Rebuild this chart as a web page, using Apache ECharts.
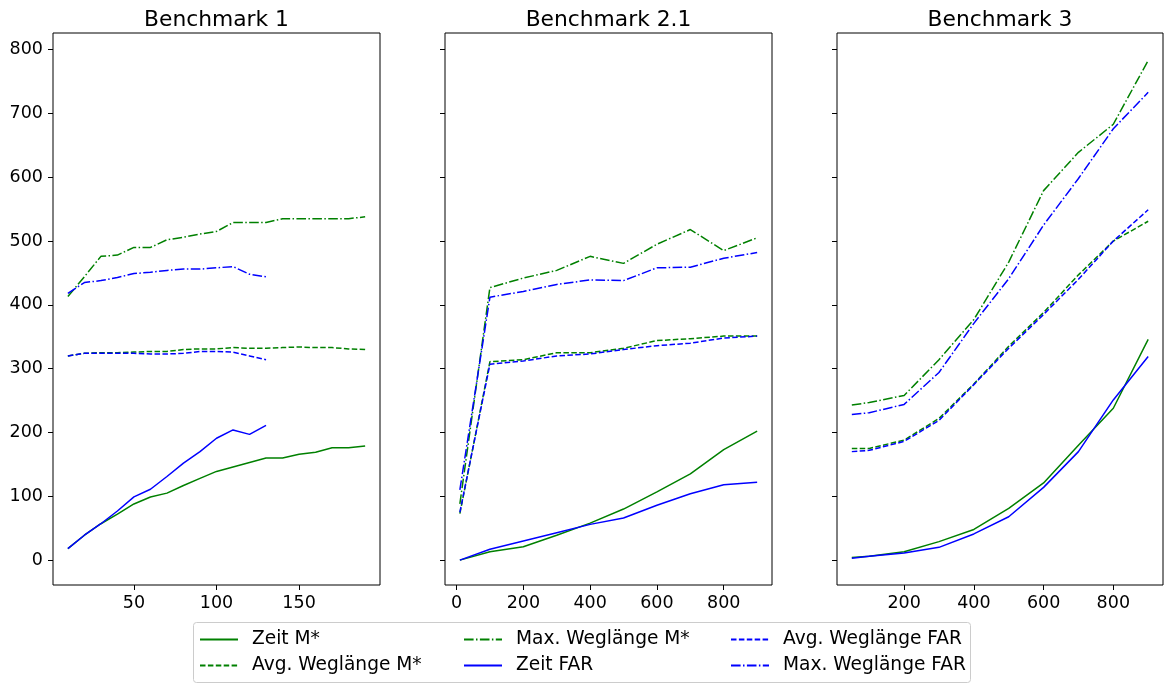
<!DOCTYPE html>
<html>
<head>
<meta charset="utf-8">
<title>Benchmark</title>
<script src="https://cdn.jsdelivr.net/npm/echarts@6/dist/echarts.min.js"></script>
<style>
	html, body { margin: 0; padding: 0; background: #fff; }
	#chart { width: 1167px; height: 684px; }
</style>
</head>
<body>
<div id="chart"></div>
<script>
	// Benchmark 1
	var b1XM = [10, 20, 30, 40, 50, 60, 70, 80, 90, 100, 110, 120, 130, 140, 150, 160, 170, 180, 190];
	var b1ZeitM = [18, 39, 57, 72, 88, 99, 105, 117, 128, 139, 146, 153, 160, 160, 166, 169, 176, 176, 179];
	var b1AvgM = [320, 324, 325, 325, 326, 327, 327, 330, 331, 331, 333, 332, 332, 333, 334, 333, 333, 331, 330];
	var b1MaxM = [413, 444, 476, 478, 490, 490, 502, 506, 511, 515, 529, 529, 529, 535, 535, 535, 535, 535, 538];
	var b1XF = [10, 20, 30, 40, 50, 60, 70, 80, 90, 100, 110, 120, 130];
	var b1ZeitF = [18, 39, 57, 77, 99, 111, 131, 152, 170, 191, 204, 197, 211];
	var b1AvgF = [320, 324, 324, 324, 324, 323, 323, 324, 327, 327, 326, 320, 314];
	var b1MaxF = [418, 435, 438, 443, 449, 451, 454, 456, 456, 458, 460, 448, 444];

	// Benchmark 2.1
	var b2X = [10, 100, 200, 300, 400, 500, 600, 700, 800, 900];
	var b2ZeitM = [0, 13, 21, 39, 58, 80, 107, 135, 173, 202];
	var b2AvgM = [73, 311, 314, 325, 325, 332, 344, 347, 351, 351];
	var b2MaxM = [88, 427, 442, 454, 476, 465, 495, 518, 485, 505];
	var b2ZeitF = [0, 17, 30, 43, 56, 66, 86, 104, 118, 122];
	var b2AvgF = [75, 307, 312, 320, 323, 330, 336, 340, 348, 351];
	var b2MaxF = [110, 412, 421, 432, 439, 438, 458, 459, 473, 482];

	// Benchmark 3
	var b3X = [50, 100, 200, 300, 400, 500, 600, 700, 800, 900];
	var b3ZeitM = [4, 6, 13, 29, 48, 81, 121, 180, 238, 346];
	var b3AvgM = [175, 175, 188, 222, 276, 335, 388, 447, 500, 531];
	var b3MaxM = [243, 247, 258, 314, 377, 467, 579, 639, 683, 783];
	var b3ZeitF = [3, 6, 11, 20, 41, 68, 114, 170, 251, 319];
	var b3AvgF = [170, 172, 186, 219, 275, 332, 385, 440, 500, 549];
	var b3MaxF = [228, 231, 244, 294, 371, 441, 525, 598, 676, 733];

	var titles = ['Benchmark 1', 'Benchmark 2.1', 'Benchmark 3'];
	var names = ['Zeit M*', 'Avg. Weglänge M*', 'Max. Weglänge M*', 'Zeit FAR', 'Avg. Weglänge FAR', 'Max. Weglänge FAR'];
	var yTicks = [0, 100, 200, 300, 400, 500, 600, 700, 800];
	var xTicks = [[50, 100, 150], [0, 200, 400, 600, 800], [200, 400, 600, 800]];

	var font = 'DejaVu Sans';
	var green = '#008000';
	var blue = '#0000ff';
	var dashed = [5.5, 2.4];
	var dashdot = [9.6, 2.4, 1.5, 2.4];

	// panel boxes (left, width) and x ranges like matplotlib margins
	var panels = [
		{ left: 53, width: 327, xmin: 1, xmax: 199 },
		{ left: 445, width: 327, xmin: -34.5, xmax: 944.5 },
		{ left: 837, width: 326, xmin: 7.5, xmax: 942.5 }
	];

	function pairs(xs, ys) {
		var out = [];
		for (var i = 0; i < xs.length; i++) {
			out.push([xs[i], ys[i]]);
		}
		return out;
	}

	var panelData = [
		[pairs(b1XM, b1ZeitM), pairs(b1XM, b1AvgM), pairs(b1XM, b1MaxM), pairs(b1XF, b1ZeitF), pairs(b1XF, b1AvgF), pairs(b1XF, b1MaxF)],
		[pairs(b2X, b2ZeitM), pairs(b2X, b2AvgM), pairs(b2X, b2MaxM), pairs(b2X, b2ZeitF), pairs(b2X, b2AvgF), pairs(b2X, b2MaxF)],
		[pairs(b3X, b3ZeitM), pairs(b3X, b3AvgM), pairs(b3X, b3MaxM), pairs(b3X, b3ZeitF), pairs(b3X, b3AvgF), pairs(b3X, b3MaxF)]
	];
	var styles = [
		{ color: green, type: 'solid' },
		{ color: green, type: dashed },
		{ color: green, type: dashdot },
		{ color: blue, type: 'solid' },
		{ color: blue, type: dashed },
		{ color: blue, type: dashdot }
	];

	var grid = [], xAxis = [], yAxis = [], series = [], title = [];
	panels.forEach(function(p, i) {
		grid.push({
			left: p.left, top: 33, width: p.width, height: 552,
			show: true, borderColor: '#000', borderWidth: 1, backgroundColor: 'transparent'
		});
		title.push({
			text: titles[i],
			left: p.left + p.width / 2,
			top: 9,
			textAlign: 'center',
			padding: 0,
			textStyle: { fontFamily: font, fontSize: 21.8, fontWeight: 'normal', color: '#000' }
		});
		xAxis.push({
			type: 'value', gridIndex: i, min: p.xmin, max: p.xmax,
			axisLine: { show: false, onZero: false },
			splitLine: { show: false },
			axisTick: { show: true, length: 5, customValues: xTicks[i], lineStyle: { color: '#000' } },
			axisLabel: { customValues: xTicks[i], margin: 9, fontFamily: font, fontSize: 17.5, color: '#000' }
		});
		yAxis.push({
			type: 'value', gridIndex: i, min: -39, max: 826,
			axisLine: { show: false, onZero: false },
			splitLine: { show: false },
			axisTick: { show: true, length: 5, customValues: yTicks, lineStyle: { color: '#000' } },
			axisLabel: { show: i === 0, customValues: yTicks, margin: 10, fontFamily: font, fontSize: 17.5, color: '#000' }
		});
		panelData[i].forEach(function(d, k) {
			series.push({
				name: names[k],
				type: 'line',
				xAxisIndex: i,
				yAxisIndex: i,
				data: d,
				symbol: 'none',
				color: styles[k].color,
				lineStyle: { color: styles[k].color, width: 1.5, type: styles[k].type }
			});
		});
	});

	// legend: 3 columns x 2 rows, column-major like matplotlib ncol=3
	var legendPos = [
		{ left: 199, top: 630 }, { left: 199, top: 656 },
		{ left: 463, top: 630 }, { left: 463, top: 656 },
		{ left: 730, top: 630 }, { left: 730, top: 656 }
	];
	var legend = names.map(function(n, k) {
		return {
			data: [n],
			left: legendPos[k].left,
			top: legendPos[k].top,
			padding: 0,
			itemWidth: 38,
			itemHeight: 18,
			selectedMode: false,
			itemStyle: { color: 'transparent', borderColor: 'transparent', borderWidth: 0, opacity: 0 },
			textStyle: { fontFamily: font, fontSize: 18.6, color: '#000', lineHeight: 18, padding: [0, 0, 0, 9] }
		};
	});

	var chart = echarts.init(document.getElementById('chart'));
	chart.setOption({
		animation: false,
		backgroundColor: '#fff',
		title: title,
		grid: grid,
		xAxis: xAxis,
		yAxis: yAxis,
		legend: legend,
		graphic: [{
			type: 'rect',
			z: -1,
			shape: { x: 193.5, y: 622.5, width: 777, height: 60, r: 3 },
			style: { fill: '#fff', stroke: '#cccccc', lineWidth: 1 }
		}],
		series: series
	});
</script>
</body>
</html>
